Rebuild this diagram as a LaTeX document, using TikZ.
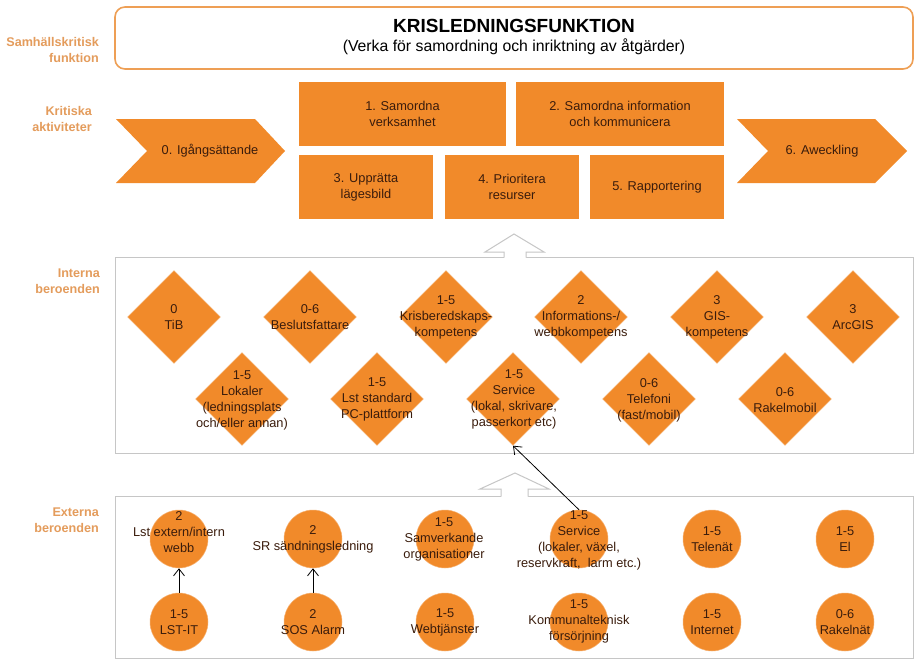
\documentclass[tikz,border=0pt]{standalone}
\usepackage{fontspec}
\setmainfont{Liberation Sans}
\usetikzlibrary{shapes.geometric,arrows.meta}
\definecolor{org}{HTML}{F18A2A}
\definecolor{orgedge}{HTML}{F6B070}
\definecolor{lbl}{HTML}{E49C5C}
\definecolor{txt}{HTML}{3A1C0C}
\definecolor{grayln}{HTML}{C6C6C6}
\definecolor{topbd}{HTML}{EE9F55}
\begin{document}
\begin{tikzpicture}[x=1pt,y=-1pt,
  sidelbl/.style={font=\bfseries\fontsize{12.6}{15.5}\selectfont, text=lbl, align=right, anchor=east, inner sep=0},
  actbox/.style={fill=org, draw=none, text=txt, font=\fontsize{12.8}{16}\selectfont, align=center, inner sep=0},
  chev/.style={fill=org},
  dia/.style={diamond, fill=org, draw=orgedge, line width=0.4, minimum width=93, minimum height=93, inner sep=0},
  shtxt/.style={text=txt, font=\fontsize{12.8}{16}\selectfont, align=center, inner sep=0},
  circ/.style={circle, fill=org, draw=orgedge, line width=0.5, minimum size=58, inner sep=0},
  hollow/.style={draw=grayln, line width=1},
  grp/.style={draw=grayln, line width=1},
  dep/.style={draw=black, line width=0.8, -{Straight Barb[length=7pt,width=11pt,line width=0.8pt]}}
]
\useasboundingbox[fill=white] (0,0) rectangle (918,661);

% side labels
\node[sidelbl] (l1) at (99,50) {Samhällskritisk\\funktion};
\node[sidelbl] (l2) at (92,119) {Kritiska\\aktiviteter};
\node[sidelbl] (l3) at (100,281) {Interna\\beroenden};
\node[sidelbl] (l4) at (99,520) {Externa\\beroenden};

% top box
\node[draw=topbd, line width=1.6, rounded corners=10, minimum width=798, minimum height=62, inner sep=0] (top) at (514,38) {};
\node[font=\bfseries\fontsize{19}{22}\selectfont, inner sep=0] (title) at (514,26) {KRISLEDNINGSFUNKTION};
\node[font=\fontsize{15.8}{18}\selectfont, inner sep=0] (sub) at (514,47) {(Verka för samordning och inriktning av åtgärder)};

% chevrons
\fill[chev] (116,119) -- (255,119) -- (285,151) -- (255,183) -- (116,183) -- (147,151) -- cycle;
\node[shtxt] (a0) at (210,151) {0. Igångsättande};
\fill[chev] (737,119) -- (875,119) -- (907,151) -- (875,183) -- (737,183) -- (768,151) -- cycle;
\node[shtxt] (a6) at (822,151) {6. Aweckling};

% activity boxes
\node[actbox, minimum width=207, minimum height=64] (a1) at (402.5,114) {1. Samordna\\verksamhet};
\node[actbox, minimum width=208, minimum height=64] (a2) at (620,114) {2. Samordna information\\och kommunicera};
\node[actbox, minimum width=134, minimum height=64] (a3) at (366,187) {3. Upprätta\\lägesbild};
\node[actbox, minimum width=134, minimum height=64] (a4) at (512,187) {4. Prioritera\\resurser};
\node[actbox, minimum width=134, minimum height=64] (a5) at (657,187) {5. Rapportering};

% group boxes
\draw[grp] (115,257) rectangle (913,453);
\draw[grp] (115,496) rectangle (913,658);

% hollow arrows
\fill[white] (504,252) -- (485,252) -- (514,234) -- (544,252) -- (526,252) -- (526,258.5) -- (504,258.5) -- cycle;
\draw[hollow] (504,257.5) -- (504,252) -- (485,252) -- (514,234) -- (544,252) -- (526,252) -- (526,257.5);
\fill[white] (501,489) -- (480,489) -- (515,473) -- (549,489) -- (528,489) -- (528,497.5) -- (501,497.5) -- cycle;
\draw[hollow] (501,496.5) -- (501,489) -- (480,489) -- (515,473) -- (549,489) -- (528,489) -- (528,496.5);

% internal dependencies (diamonds)
\node[dia] (d1) at (174,317) {};  \node[shtxt] (d1t) at (174,317) {0\\TiB};
\node[dia] (d2) at (310,317) {};  \node[shtxt] (d2t) at (310,317) {0-6\\Beslutsfattare};
\node[dia] (d3) at (446,317) {};  \node[shtxt] (d3t) at (446,317) {1-5\\Krisberedskaps-\\kompetens};
\node[dia] (d4) at (581,317) {};  \node[shtxt] (d4t) at (581,317) {2\\Informations-/\\webbkompetens};
\node[dia] (d5) at (717,317) {};  \node[shtxt] (d5t) at (717,317) {3\\GIS-\\kompetens};
\node[dia] (d6) at (853,317) {};  \node[shtxt] (d6t) at (853,317) {3\\ArcGIS};
\node[dia] (d7) at (242,399) {};  \node[shtxt] (d7t) at (242,400) {1-5\\Lokaler\\(ledningsplats\\och/eller annan)};
\node[dia] (d8) at (377,399) {};  \node[shtxt] (d8t) at (377,399) {1-5\\Lst standard\\PC-plattform};
\node[dia] (d9) at (513,399) {};  \node[shtxt] (d9t) at (514,399) {1-5\\Service\\(lokal, skrivare,\\passerkort etc)};
\node[dia] (d10) at (649,399) {}; \node[shtxt] (d10t) at (649,400) {0-6\\Telefoni\\(fast/mobil)};
\node[dia] (d11) at (785,399) {}; \node[shtxt] (d11t) at (785,400) {0-6\\Rakelmobil};

% external dependencies (circles)
\node[circ] (e1a) at (179,539) {}; \node[shtxt] (e1at) at (179,532) {2\\Lst extern/intern\\webb};
\node[circ] (e2a) at (313,539) {}; \node[shtxt] (e2at) at (313,539) {2\\SR sändningsledning};
\node[circ] (e3a) at (445,539) {}; \node[shtxt] (e3at) at (444,539) {1-5\\Samverkande\\organisationer};
\node[circ] (e4a) at (579,539) {}; \node[shtxt] (e4at) at (579,540) {1-5\\Service\\(lokaler, växel,\\reservkraft,\ \ larm etc.)};
\node[circ] (e5a) at (712,539) {}; \node[shtxt] (e5at) at (712,539) {1-5\\Telenät};
\node[circ] (e6a) at (845,539) {}; \node[shtxt] (e6at) at (845,539) {1-5\\El};
\node[circ] (e1b) at (179,622) {}; \node[shtxt] (e1bt) at (179,622) {1-5\\LST-IT};
\node[circ] (e2b) at (313,622) {}; \node[shtxt] (e2bt) at (313,622) {2\\SOS Alarm};
\node[circ] (e3b) at (445,622) {}; \node[shtxt] (e3bt) at (445,622) {1-5\\Webtjänster};
\node[circ] (e4b) at (579,622) {}; \node[shtxt] (e4bt) at (579,621.5) {1-5\\Kommunalteknisk\\försörjning};
\node[circ] (e5b) at (712,622) {}; \node[shtxt] (e5bt) at (712,622) {1-5\\Internet};
\node[circ] (e6b) at (845,622) {}; \node[shtxt] (e6bt) at (845,622) {0-6\\Rakelnät};

% connectors
\draw[dep] (e1b.north) -- (e1a.south);
\draw[dep] (e2b.north) -- (e2a.south);
\draw[dep] (e4a.north) -- (d9.south);
\end{tikzpicture}
\end{document}
